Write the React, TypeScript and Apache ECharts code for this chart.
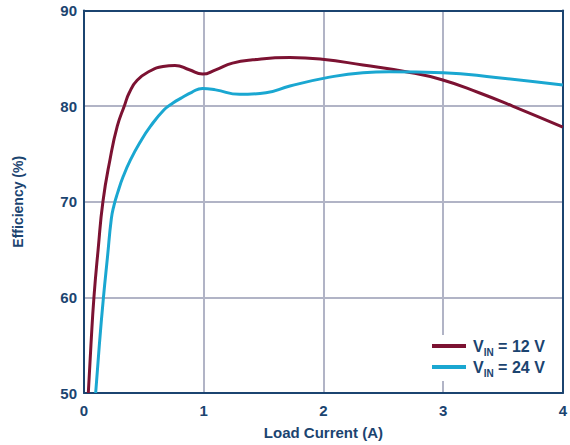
import React, { useEffect, useRef } from "react";
import * as echarts from "echarts";

const xTicks = [0, 1, 2, 3, 4];
const yTicks = [50, 60, 70, 80, 90];

const seriesNames = ["12", "24"];

const vin12: [number, number][] = [
  [0.036, 50], [0.058, 55], [0.083, 60], [0.118, 65], [0.158, 70],
  [0.217, 74.4], [0.278, 77.9], [0.339, 80.1], [0.378, 81.4], [0.444, 82.7],
  [0.556, 83.7], [0.66, 84.15], [0.76, 84.25], [0.88, 83.8], [0.99, 83.35], [1.1, 83.8],
  [1.24, 84.5], [1.41, 84.85], [1.72, 85.08], [1.99, 84.9], [2.33, 84.3],
  [2.69, 83.6], [2.99, 82.76], [3.3, 81.4], [3.58, 80.0], [4.0, 77.8],
];

const vin24: [number, number][] = [
  [0.0975, 50], [0.128, 55], [0.1625, 60], [0.196, 64.2], [0.228, 68.2], [0.25, 69.6],
  [0.28, 70.9], [0.328, 72.66], [0.389, 74.4], [0.467, 76.2], [0.556, 77.9],
  [0.667, 79.6], [0.74, 80.3], [0.82, 80.9], [0.9, 81.45], [0.99, 81.85], [1.1, 81.7],
  [1.3, 81.23], [1.52, 81.4], [1.72, 82.1], [2.0, 82.9], [2.33, 83.5], [2.55, 83.6],
  [3.0, 83.5], [3.44, 83.0], [4.0, 82.2],
];

const AXIS = "#1b4470";
const GRID = "#b1b4c6";
const RED = "#7c1232";
const CYAN = "#1aa7d1";
const FONT = "'Liberation Sans', Arial, sans-serif";

export default function App() {
  const ref = useRef<HTMLDivElement>(null);
  useEffect(() => {
    if (!ref.current) return;
    const chart = echarts.init(ref.current, undefined, { renderer: "svg" });
    const labelStyle = { color: AXIS, fontFamily: FONT, fontWeight: "bold" as const, fontSize: 15 };
    chart.setOption({
      animation: false,
      grid: { left: 84, right: 6.5, top: 10.5, bottom: 50.5 },
      legend: {
        orient: "vertical",
        left: 426,
        top: 335,
        padding: [3, 8, 3, 6],
        backgroundColor: "#ffffff",
        itemWidth: 34,
        itemHeight: 4,
        itemGap: 2,
        icon: "rect",
        data: [`V_IN = ${seriesNames[0]} V`, `V_IN = ${seriesNames[1]} V`],
        formatter: (name: string) => {
          const v = name.replace("V_IN = ", "");
          return `{p|V}{b|IN}{a| = ${v}}`;
        },
        textStyle: {
          color: AXIS,
          fontFamily: FONT,
          fontWeight: "bold",
          rich: {
            p: { color: AXIS, fontFamily: FONT, fontWeight: "bold", fontSize: 16, lineHeight: 22, padding: [0, 0, 0, 2] },
            a: { color: AXIS, fontFamily: FONT, fontWeight: "bold", fontSize: 16, lineHeight: 22 },
            b: { color: AXIS, fontFamily: FONT, fontWeight: "bold", fontSize: 10, lineHeight: 11, verticalAlign: "bottom" },
          },
        },
      },
      xAxis: [
        {
          type: "value",
          min: xTicks[0],
          max: xTicks[xTicks.length - 1],
          interval: 1,
          name: "Load Current (A)",
          nameLocation: "middle",
          nameGap: 32,
          nameTextStyle: { ...labelStyle },
          axisLine: { show: true, lineStyle: { color: AXIS, width: 2 } },
          axisTick: { show: false },
          axisLabel: { ...labelStyle, margin: 10 },
          splitLine: { show: true, lineStyle: { color: GRID, width: 2 } },
        },
        {
          type: "value",
          position: "top",
          min: xTicks[0],
          max: xTicks[xTicks.length - 1],
          interval: 1,
          axisLine: { show: true, onZero: false, lineStyle: { color: AXIS, width: 2 } },
          axisTick: { show: false },
          axisLabel: { show: false },
          splitLine: { show: false },
        },
      ],
      yAxis: [
        {
          type: "value",
          min: yTicks[0],
          max: yTicks[yTicks.length - 1],
          interval: 10,
          name: "Efficiency (%)",
          nameLocation: "middle",
          nameGap: 59,
          nameTextStyle: { ...labelStyle, fontSize: 14 },
          axisLine: { show: true, lineStyle: { color: AXIS, width: 2 } },
          axisTick: { show: false },
          axisLabel: { ...labelStyle, margin: 7 },
          splitLine: { show: true, lineStyle: { color: GRID, width: 2 } },
        },
        {
          type: "value",
          position: "right",
          min: yTicks[0],
          max: yTicks[yTicks.length - 1],
          interval: 10,
          axisLine: { show: true, onZero: false, lineStyle: { color: AXIS, width: 2 } },
          axisTick: { show: false },
          axisLabel: { show: false },
          splitLine: { show: false },
        },
      ],
      series: [
        {
          name: `V_IN = ${seriesNames[0]} V`,
          type: "line",
          data: vin12,
          smooth: 0.5,
          showSymbol: false,
          symbol: "none",
          lineStyle: { color: RED, width: 3 },
          itemStyle: { color: RED },
          z: 3,
        },
        {
          name: `V_IN = ${seriesNames[1]} V`,
          type: "line",
          data: vin24,
          smooth: 0.5,
          showSymbol: false,
          symbol: "none",
          lineStyle: { color: CYAN, width: 3 },
          itemStyle: { color: CYAN },
          z: 3,
        },
      ],
    });
    return () => chart.dispose();
  }, []);
  return <div ref={ref} style={{ width: 570, height: 445, position: "absolute", left: 0, top: 0 }} />;
}
